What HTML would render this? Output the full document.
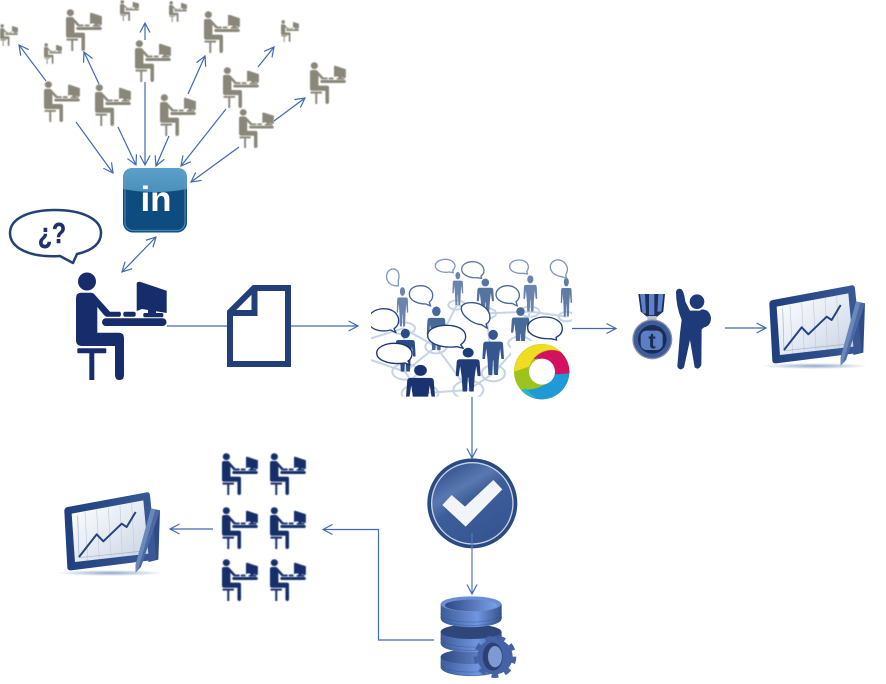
<!DOCTYPE html>
<html><head><meta charset="utf-8"><style>
html,body{margin:0;padding:0;background:#fff}
svg{display:block}
</style></head><body>
<svg width="886" height="684" viewBox="0 0 886 684" xmlns="http://www.w3.org/2000/svg">
<defs>
<marker id="a" markerWidth="14" markerHeight="14" refX="11.5" refY="7" orient="auto-start-reverse" markerUnits="userSpaceOnUse"><path d="M2,2 L11.5,7 L2,12" fill="none" stroke="#4169b0" stroke-width="1.2"/></marker>
<filter id="b" x="-5%" y="-5%" width="110%" height="110%"><feGaussianBlur stdDeviation="0.4"/></filter>
<symbol id="p" viewBox="0 0 91 108" preserveAspectRatio="none">
<circle cx="11" cy="9.5" r="9"/>
<path d="M0,26 Q0,20.7 5,20.7 H15 Q17.5,20.7 19,23 L34,39.7 H44 Q46,42 44,44.7 H31 Q29.5,44.7 28,43 L21.3,35 V60.7 H43 Q48,60.7 48,66 V103 Q48,108 43.5,108 Q39,108 39,103 V74 H6 Q0,74 0,68 Z"/>
<rect x="1.3" y="76.3" width="29" height="5" rx="1"/>
<rect x="13.3" y="81" width="5" height="27"/>
<rect x="26" y="46.3" width="64.5" height="7.7" rx="3.8"/>
<rect x="47.3" y="39.7" width="12.4" height="5" rx="2"/>
<path d="M60.7,11 Q61,9.7 64,9.7 L90.7,18.7 V41 L66,37 L60.7,39 Z"/>
<rect x="72" y="36" width="8" height="6"/>
<rect x="67.3" y="41" width="20" height="4.3" rx="1.5"/>
</symbol>
<symbol id="s" viewBox="0 0 50 100" preserveAspectRatio="none">
<circle cx="25" cy="12" r="11"/>
<path d="M8,27 H42 Q48,27 48,34 L50,65 H44 L41,42 L38,66 L36,100 H27.500 L25.500,68 H24.500 L22.500,100 H14 L12,66 L9,42 L6,65 H0 L2,34 Q2,27 8,27 Z"/>
</symbol>
<linearGradient id="li" x1="0" y1="0" x2="0" y2="1"><stop offset="0" stop-color="#5aa0c8"/><stop offset="1" stop-color="#4a90bc"/></linearGradient>
<linearGradient id="ck" x1="0.2" y1="0" x2="0.8" y2="1"><stop offset="0" stop-color="#2f4f8c"/><stop offset=".3" stop-color="#5a78b0"/><stop offset=".45" stop-color="#3d5e9a"/><stop offset="1" stop-color="#335490"/></linearGradient>
<linearGradient id="d" x1="0" y1="0" x2="1" y2="0"><stop offset="0" stop-color="#3d5a98"/><stop offset=".6" stop-color="#7096e0"/><stop offset="1" stop-color="#34518c"/></linearGradient>
<linearGradient id="dt" x1="0" y1="0" x2="1" y2="0"><stop offset="0" stop-color="#2e4880"/><stop offset="1" stop-color="#7aa0ea"/></linearGradient>
<linearGradient id="sc" x1="0" y1="0" x2="1" y2="1"><stop offset="0" stop-color="#fff"/><stop offset=".55" stop-color="#e3e9f2"/><stop offset="1" stop-color="#c5d0e2"/></linearGradient>
<linearGradient id="fr" x1="0" y1="0" x2="1" y2="0"><stop offset="0" stop-color="#1f3f7e"/><stop offset="1" stop-color="#3b5a96"/></linearGradient>
<radialGradient id="sh"><stop offset="0" stop-color="#8fa8cc"/><stop offset="1" stop-color="#fff"/></radialGradient>
<clipPath id="nc"><rect x="33" y="20" width="603" height="420"/></clipPath>
<g id="chart" filter="url(#b)">
<ellipse cx="645" cy="288" rx="160" ry="9" fill="url(#sh)"/>
<path d="M770,95 L795,100 L790,248 L760,255 Z" fill="#2f4c88"/>
<path d="M518,90 L755,46 Q764,45 765,55 L784,240 Q785,248 775,249 L528,280 Q518,281 517,272 L508,102 Q508,92 518,90 Z" fill="url(#fr)"/>
<path d="M530,110 L745,70 L760,230 L540,255 Z" fill="url(#sc)"/>
<g stroke="#c2cdde" stroke-width="2" fill="none"><path d="M570,105 L578,250M605,98 L613,246M640,92 L648,242M675,85 L682,238M710,78 L718,234"/></g>
<path d="M548,115 L552,242 L745,222" fill="none" stroke="#a3b2cb" stroke-width="2"/>
<path d="M552,240 L605,172 L625,193 L680,140 L695,150 L722,105" fill="none" stroke="#24447f" stroke-width="6" stroke-linejoin="round"/>
<path d="M768,95 L795,100 L738,270 L722,287 L722,262 Z" fill="#4a6ba3"/>
<path d="M768,95 L781,98 L730,275 L722,287 L722,262 Z" fill="#6a88ba"/>
</g>
</defs>

<!-- arrows -->
<g fill="none" stroke="#4169b0" stroke-width="1.2">
<path d="M46,81 L19,45" marker-end="url(#a)"/>
<path d="M99,84 L84,52" marker-end="url(#a)"/>
<path d="M145,40 L145,23" marker-end="url(#a)"/>
<path d="M188,94 L205,56" marker-end="url(#a)"/>
<path d="M258,67 L274,47" marker-end="url(#a)"/>
<path d="M274,121 L305,98" marker-end="url(#a)"/>
<path d="M76,122 L113,173" marker-end="url(#a)"/>
<path d="M118,127 L136,165" marker-end="url(#a)"/>
<path d="M145,82 L145,165" marker-end="url(#a)"/>
<path d="M169,136 L156,166" marker-end="url(#a)"/>
<path d="M226,109 L181,166" marker-end="url(#a)"/>
<path d="M239,147 L191,182" marker-end="url(#a)"/>
<path d="M156,237 L122,272" marker-start="url(#a)" marker-end="url(#a)"/>
<path d="M167,326 H228"/>
<path d="M291,326 H358" marker-end="url(#a)"/>
<path d="M572,328.500 H616" marker-end="url(#a)"/>
<path d="M725,328 H766" marker-end="url(#a)"/>
<path d="M472,397 V458" marker-end="url(#a)"/>
<path d="M213,529 H170" marker-end="url(#a)"/>
<path d="M434,640 H378.500 V529.500 H323" marker-end="url(#a)"/>
</g>

<!-- grey people -->
<g fill="#8a877a" filter="url(#b)">
<use href="#p" x="44" y="81" width="36" height="41"/>
<use href="#p" x="95" y="84" width="36" height="42"/>
<use href="#p" x="135" y="40" width="36" height="42"/>
<use href="#p" x="160" y="94" width="36" height="42"/>
<use href="#p" x="223" y="67" width="36" height="41"/>
<use href="#p" x="239" y="109" width="35" height="39"/>
<use href="#p" x="310" y="62" width="36" height="42"/>
<use href="#p" x="66" y="9" width="36" height="42"/>
<use href="#p" x="204" y="11" width="36" height="42"/>
<use href="#p" x="44" y="43" width="18" height="21"/>
<use href="#p" x="0" y="24" width="18" height="22"/>
<use href="#p" x="120" y="0" width="19" height="21"/>
<use href="#p" x="169" y="1" width="18" height="21"/>
<use href="#p" x="281" y="20" width="18" height="22"/>
</g>

<!-- LinkedIn -->
<rect x="123" y="168" width="64" height="64.500" rx="10" fill="#0e4c80"/>
<path d="M123,189 V178 Q123,168 133,168 H177 Q187,168 187,178 V189 Q155,195 123,189 Z" fill="url(#li)"/>
<rect x="125" y="170" width="60" height="60.500" rx="8" fill="none" stroke="#5d9fc6" stroke-width="1.200" opacity=".7"/>
<text x="156" y="211" text-anchor="middle" font-family="'Liberation Sans',sans-serif" font-weight="bold" font-size="35" fill="#fff">in</text>

<!-- speech bubble -->
<path d="M73,263 L60,256 C30,258 10,248 10,233 C10,218 30,210 55,210 C82,210 101,219 101,233 C101,245 90,251 77,254 Z" fill="#fff" stroke="#234274" stroke-width="2.500" stroke-linejoin="round"/>
<text x="52" y="243" text-anchor="middle" font-family="'Liberation Sans',sans-serif" font-weight="bold" font-size="29" fill="#1c3268" stroke="#1c3268" stroke-width=".5" textLength="28" lengthAdjust="spacingAndGlyphs">¿?</text>

<!-- main person -->
<use href="#p" x="76" y="272" width="91" height="108" fill="#172d6b"/>

<!-- document -->
<g fill="#fff" stroke="#233f7a" stroke-width="6">
<path d="M254,288 H288 V364 H230 V312 Z"/>
<path d="M230,313 H254.500 V288" fill="none"/>
</g>

<!-- network -->
<g transform="translate(360,250) scale(0.33333)" clip-path="url(#nc)">
<g fill="none" stroke="#c6d4e6" stroke-width="6">
<ellipse cx="130" cy="235" rx="35" ry="18"/><ellipse cx="290" cy="165" rx="25" ry="14"/><ellipse cx="378" cy="190" rx="30" ry="16"/>
<ellipse cx="510" cy="185" rx="28" ry="15"/><ellipse cx="620" cy="200" rx="24" ry="14"/><ellipse cx="228" cy="290" rx="32" ry="20"/>
<ellipse cx="135" cy="365" rx="38" ry="24"/><ellipse cx="400" cy="370" rx="35" ry="24"/><ellipse cx="325" cy="420" rx="45" ry="28"/>
<ellipse cx="180" cy="430" rx="55" ry="28"/><ellipse cx="480" cy="280" rx="35" ry="20"/>
<path d="M33,265 L130,235 L228,290 L290,165 L378,190 L510,185 L620,200 M228,290 L135,365 L180,430 M228,290 L325,420 L400,370 L480,280 L510,185 M378,190 L400,370 M130,235 L135,365 M33,330 L135,365 M325,420 L180,430"/>
</g>
<g>
<use href="#s" x="110" y="110" width="35" height="120" fill="#6a84ad"/>
<use href="#s" x="277" y="65" width="33" height="100" fill="#6a84ad"/>
<use href="#s" x="350" y="85" width="52" height="105" fill="#55749f"/>
<use href="#s" x="490" y="75" width="42" height="110" fill="#6a84ad"/>
<use href="#s" x="602" y="82" width="34" height="118" fill="#5f7ba6"/>
<use href="#s" x="200" y="168" width="58" height="132" fill="#476a9a"/>
<use href="#s" x="453" y="170" width="57" height="120" fill="#48699a"/>
<use href="#s" x="105" y="235" width="62" height="130" fill="#2c4c85"/>
<use href="#s" x="367" y="238" width="65" height="137" fill="#35568e"/>
<use href="#s" x="287" y="292" width="75" height="133" fill="#1f3b78"/>
<use href="#s" x="138" y="343" width="87" height="150" fill="#1b3270"/>
</g>
<g fill="#fff" stroke-width="4" stroke-linejoin="round">
<path d="M115,108 L104,107 C88,104 78,92 80,76 C82,62 94,54 106,58 C116,62 120,78 115,90 Z" stroke="#8198bc"/>
<path d="M280,68 L268,66 C244,70 226,60 226,47 C226,36 240,28 256,28 C274,28 286,38 285,50 C284,56 280,60 278,62 Z" stroke="#8198bc"/>
<path d="M365,85 L350,83 C325,85 305,72 305,58 C305,44 320,35 338,35 C358,35 372,48 372,62 C372,70 368,75 363,78 Z" stroke="#5d79a6"/>
<path d="M503,72 L490,70 C465,72 449,62 449,49 C449,37 462,30 478,30 C494,30 506,40 505,52 C505,58 502,62 500,65 Z" stroke="#7e95ba"/>
<path d="M620,85 L605,80 C585,78 571,66 571,50 C571,37 585,28 598,30 C614,33 624,48 622,62 C621,68 618,72 617,75 Z" stroke="#7e95ba"/>
<path d="M212,168 L198,162 C170,162 148,150 148,132 C148,116 164,107 182,107 C202,107 218,120 218,136 C218,146 214,152 208,156 Z" stroke="#4a6a9c"/>
<path d="M472,168 L456,160 C430,162 408,150 408,134 C408,118 424,107 443,107 C462,107 478,120 478,136 C478,146 472,152 468,155 Z" stroke="#4a6a9c"/>
<path d="M382,235 L365,224 C335,222 304,195 304,175 C304,162 320,157 340,158 C368,160 390,180 390,203 C390,212 384,220 378,222 Z" stroke="#2f5088"/>
<path d="M108,248 L92,240 C60,248 25,238 25,210 C25,188 50,176 72,176 C98,176 116,192 116,212 C116,224 108,232 102,236 Z" stroke="#24427e"/>
<path d="M590,270 L572,266 C535,268 503,254 503,233 C503,213 528,201 555,201 C584,201 607,215 607,236 C607,250 597,258 588,262 Z" stroke="#1f3b78"/>
<path d="M310,295 L290,290 C245,296 203,280 203,256 C203,238 228,226 260,226 C292,226 317,238 317,260 C317,272 308,280 302,284 Z" stroke="#1f3b78"/>
<path d="M150,345 L135,339 C90,345 50,332 50,309 C50,292 75,280 103,280 C132,280 156,292 156,312 C156,322 150,330 144,333 Z" stroke="#1a3270"/>
</g>
</g>

<!-- ring logo -->
<rect x="511" y="341" width="61" height="56" fill="#fff"/>
<g transform="translate(505,335) scale(0.33333)">
<circle cx="110" cy="110" r="83" fill="#9cc31e"/>
<path d="M193,105 A83,83 0 0 1 48,165 C80,165 125,160 150,115 L160,100 Z" fill="#1f9ad6"/>
<path d="M48,165 A83,83 0 0 0 95,192 C80,180 70,170 65,160 Z" fill="#2cb6c4"/>
<path d="M85,72 C115,40 150,42 168,52 A83,83 0 0 1 193,115 L150,118 C150,90 120,65 85,72 Z" fill="#d3125f"/>
<path d="M28,110 A83,83 0 0 1 168,50 C130,35 90,50 72,95 Z" fill="#f2dc22"/>
<circle cx="111" cy="110" r="39" fill="#fff"/>
</g>

<!-- medal + cheering person -->
<g transform="translate(600,270) scale(0.33333)">
<path d="M115,72 H195 L190,125 L165,145 H147 L122,125 Z" fill="#1e2f5c"/>
<path d="M120,72 H135 L138,130 H128 Z M175,72 H190 L184,125 H172 Z M147,72 H163 V135 H147 Z" fill="#5d82cc"/>
<rect x="142" y="138" width="28" height="22" fill="#b9c0cc"/>
<circle cx="157" cy="208" r="60" fill="#8a8f98"/>
<circle cx="157" cy="208" r="56" fill="#3d5c9e"/>
<circle cx="157" cy="208" r="43" fill="#1d2c54"/>
<rect x="122" y="182" width="66" height="58" rx="18" fill="#5c7fc4"/>
<text x="156" y="236" text-anchor="middle" font-family="'Liberation Sans',sans-serif" font-weight="bold" font-size="66" fill="#1d2c54">t</text>
<g fill="#1e3a78">
<circle cx="291" cy="95" r="22"/>
<path d="M228,65 Q232,52 245,58 Q252,65 256,95 L270,122 H300 L305,118 Q330,118 333,145 Q332,168 312,172 L305,178 L304,285 Q296,302 284,292 L270,210 L252,292 Q240,305 232,290 L240,190 L245,150 Q228,110 228,65 Z"/>
</g>
</g>

<!-- charts -->
<use href="#chart" transform="translate(600,270) scale(0.33333)"/>
<use href="#chart" transform="translate(-105,477) scale(0.33333)"/>

<!-- navy group -->
<g fill="#172d6b" filter="url(#b)">
<use href="#p" x="222" y="453" width="36" height="42"/>
<use href="#p" x="270" y="453" width="36" height="42"/>
<use href="#p" x="222" y="507" width="36" height="42"/>
<use href="#p" x="270" y="507" width="36" height="42"/>
<use href="#p" x="222" y="559" width="36" height="42"/>
<use href="#p" x="270" y="559" width="36" height="42"/>
</g>

<!-- check + database -->
<g transform="translate(370,400) scale(0.33333)">
<circle cx="307" cy="310" r="135" fill="#2a4a82"/>
<circle cx="307" cy="310" r="122" fill="url(#ck)" stroke="#c8d2e4" stroke-width="4"/>
<path d="M217,315 L245,285 L285,320 L370,240 L397,268 L287,380 Z" fill="#f2f4f8"/>
<path d="M212,770 V800 C212,838 395,838 395,800 V770 Z" fill="url(#d)"/>
<ellipse cx="303" cy="770" rx="91" ry="22" fill="url(#dt)"/>
<path d="M212,695 V730 C212,765 395,765 395,730 V695 Z" fill="url(#d)"/>
<ellipse cx="303" cy="695" rx="91" ry="22" fill="#2f4678"/>
<path d="M212,612 V655 C212,690 395,690 395,655 V612 Z" fill="url(#d)"/>
<g fill="none" stroke="#35508c" stroke-width="1.500" opacity=".7">
<path d="M212,640 C212,675 395,675 395,640M212,650 C212,685 395,685 395,650M212,715 C212,750 395,750 395,715M212,725 C212,760 395,760 395,725M212,790 C212,825 395,825 395,790M212,800 C212,835 395,835 395,800"/>
</g>
<ellipse cx="303" cy="612" rx="91" ry="23" fill="#6a8ed4"/>
<ellipse cx="303" cy="616" rx="78" ry="17" fill="url(#dt)"/>
<circle cx="375" cy="770" r="53" fill="#4562a6"/>
<circle cx="375" cy="770" r="57" fill="none" stroke="#4562a6" stroke-width="14" stroke-dasharray="20 19.800"/>
<ellipse cx="368" cy="770" rx="30" ry="42" fill="#2c4074"/>
<ellipse cx="375" cy="770" rx="21" ry="32" fill="#7f9ad0"/>
</g>
<path d="M472,533 V594" fill="none" stroke="#4f78bc" stroke-width="1.200" marker-end="url(#a)"/>
</svg>
</body></html>
